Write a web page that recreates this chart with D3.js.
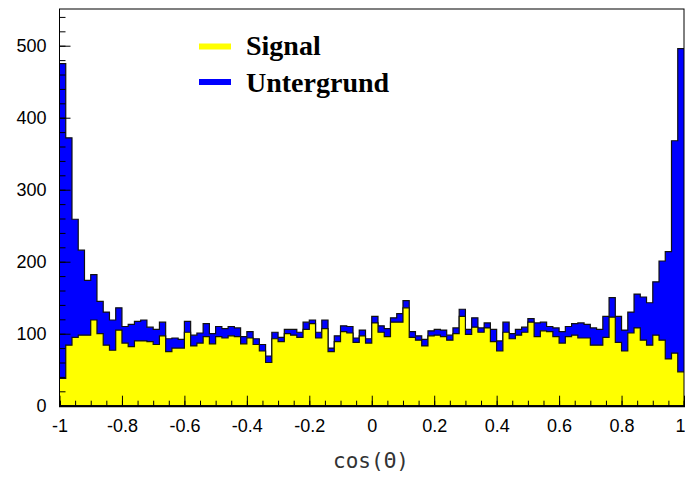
<!doctype html>
<html>
  <head>
    <script src="https://cdn.jsdelivr.net/npm/d3@7/dist/d3.min.js"></script>
    <style>
    body { margin: 0; background: #fff; }
    .axis text { font-family: "Liberation Sans", Arial, sans-serif; font-size: 18px; fill: #000; }
    .axis path, .axis line { stroke: #000; }
    </style>
  </head>
  <body>
    <svg id="chart" width="685" height="477"></svg>
    <script>
      // 100 bins over cos(theta) in [-1, 1]
      var binEdges = [-1, 1];
      var signal = [38, 84, 95, 98, 98, 119, 100, 84, 77, 105,
                    87, 82, 90, 90, 89, 85, 97, 75, 80, 80,
                    102, 83, 87, 96, 86, 96, 94, 97, 96, 86,
                    94, 85, 76, 60, 93, 89, 100, 98, 95, 106,
                    114, 94, 107, 75, 89, 103, 101, 88, 97, 87,
                    115, 102, 96, 116, 116, 136, 95, 91, 83, 97,
                    98, 96, 91, 100, 124, 99, 109, 102, 108, 89,
                    76, 102, 93, 98, 102, 116, 96, 104, 103, 96,
                    87, 96, 98, 94, 94, 84, 84, 95, 123, 88,
                    76, 101, 108, 91, 84, 98, 91, 65, 73, 47];
      var total = [475, 372, 259, 216, 174, 182, 145, 130, 119, 136,
                   110, 113, 117, 119, 109, 106, 116, 93, 94, 92,
                   117, 98, 101, 114, 100, 110, 107, 110, 108, 96,
                   103, 93, 85, 69, 102, 95, 106, 106, 102, 116,
                   119, 102, 119, 80, 97, 111, 110, 94, 105, 93,
                   124, 111, 107, 122, 128, 146, 103, 97, 92, 104,
                   106, 105, 98, 108, 134, 106, 122, 108, 115, 106,
                   90, 116, 100, 106, 109, 121, 115, 116, 110, 108,
                   103, 110, 114, 115, 113, 108, 106, 124, 150, 124,
                   105, 130, 155, 151, 143, 172, 201, 214, 368, 496];
      var background = total.map((t, i) => t - signal[i]);
      var legendLabels = ["Signal", "Untergrund"];
      var colors = ["#ffff00", "#0000ff"];
      var xTicks = d3.range(-1, 1.0001, 0.2);
      var xMinor = d3.range(-1, 1.0001, 0.05);
      var yTicks = d3.range(0, 501, 100);
      var yMinor = d3.range(0, 541, 20);

      var svg = d3.select("#chart");
      var pLeft = 59.5, pRight = 684, pTop = 9, pBottom = 405.7;
      var x = d3.scaleLinear().domain(binEdges).range([pLeft, pRight]);
      var y = d3.scaleLinear().domain([0, 551]).range([pBottom, pTop]);
      var nBins = signal.length;
      var bw = (binEdges[1] - binEdges[0]) / nBins;

      var rows = signal.map((s, i) => ({lo: binEdges[0] + i * bw, sig: s, bkg: background[i]}));
      var stack = d3.stack().keys(["sig", "bkg"])(rows);

      function stepPoints(layer) {
        var pts = [];
        layer.forEach(d => {
          pts.push({x: d.data.lo, y1: d[1]});
          pts.push({x: d.data.lo + bw, y1: d[1]});
        });
        return pts;
      }

      var area = d3.area()
        .x(d => x(d.x))
        .y0(d => y(0))
        .y1(d => y(d.y1));
      var line = d3.line()
        .x(d => x(d.x))
        .y(d => y(d.y1));

      // draw total (blue) first, then signal (yellow) over it
      [1, 0].forEach(k => {
        var pts = stepPoints(stack[k]);
        svg.append("path")
          .attr("d", area(pts))
          .attr("fill", colors[k])
          .attr("stroke", "none");
        svg.append("path")
          .attr("d", line(pts))
          .attr("fill", "none")
          .attr("stroke", "#111")
          .attr("stroke-width", 1.2);
      });

      // frame
      svg.append("rect")
        .attr("x", pLeft).attr("y", pTop)
        .attr("width", pRight - pLeft).attr("height", pBottom - pTop)
        .attr("fill", "none").attr("stroke", "#000").attr("stroke-width", 1);

      // x axis, ticks pointing inwards
      svg.append("g")
        .attr("class", "axis")
        .attr("transform", `translate(0,${pBottom})`)
        .call(d3.axisBottom(x).tickValues(xMinor).tickSize(-5).tickFormat(""))
        .call(g => g.select(".domain").attr("stroke-width", 2));
      svg.append("g")
        .attr("class", "axis")
        .attr("transform", `translate(0,${pBottom})`)
        .call(d3.axisBottom(x).tickValues(xTicks).tickSize(-10).tickPadding(10)
          .tickFormat(d => String(+d.toFixed(1))))
        .call(g => g.select(".domain").remove())
        .call(g => g.selectAll("text").attr("dy", "0.9em"))
        .call(g => g.selectAll(".tick:last-of-type text").attr("dx", -4));

      // y axis
      svg.append("g")
        .attr("class", "axis")
        .attr("transform", `translate(${pLeft},0)`)
        .call(d3.axisLeft(y).tickValues(yMinor).tickSize(-6).tickFormat(""))
        .call(g => g.select(".domain").remove());
      svg.append("g")
        .attr("class", "axis")
        .attr("transform", `translate(${pLeft},0)`)
        .call(d3.axisLeft(y).tickValues(yTicks).tickSize(-11).tickPadding(13))
        .call(g => g.select(".domain").remove());

      // axis title
      svg.append("text")
        .attr("x", 371).attr("y", 468)
        .attr("text-anchor", "middle")
        .style("font-family", "'DejaVu Sans Mono', monospace")
        .style("font-size", "21px")
        .style("fill", "#333")
        .text("cos(\u0398)");

      // legend
      var legend = svg.append("g");
      legendLabels.forEach((lab, i) => {
        legend.append("rect")
          .attr("x", 199).attr("y", 43.5 + i * 35.5)
          .attr("width", 32).attr("height", 6)
          .attr("fill", colors[i]);
        legend.append("text")
          .attr("x", 246).attr("y", 54.5 + i * 37.5)
          .style("font-family", "'Liberation Serif', 'Times New Roman', serif")
          .style("font-weight", "bold")
          .style("font-size", "28px")
          .text(lab);
      });
    </script>
  </body>
</html>
